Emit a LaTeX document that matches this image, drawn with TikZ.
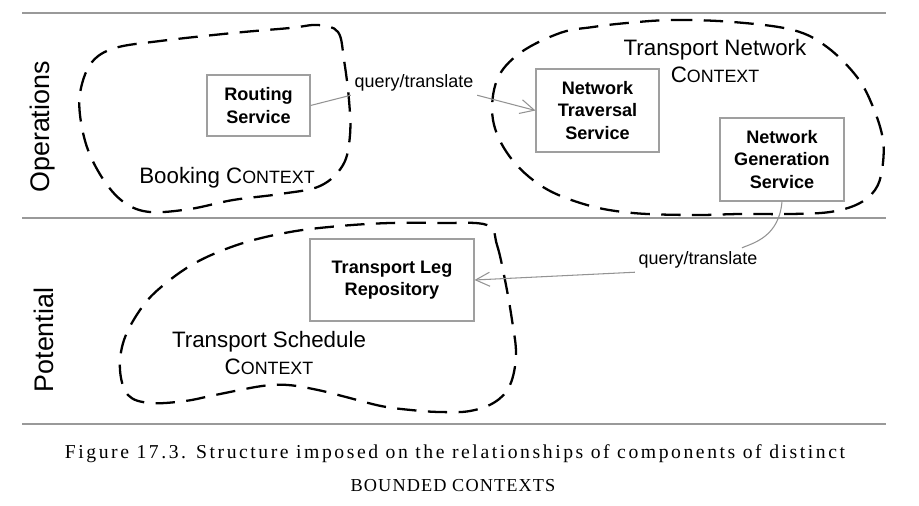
\documentclass[tikz,border=0pt]{standalone}
\usepackage{fontspec}
\setmainfont{Liberation Serif}
\setsansfont{Liberation Sans}
\usepackage{graphicx}
\usetikzlibrary{shapes,arrows.meta,positioning}
\newcommand{\ctxsc}{C\scalebox{0.8}{ONTEXT}}
\tikzstyle{block} = [rectangle, draw=gray!75, line width=0.6pt, align=center, font=\sffamily\bfseries\fontsize{10.3}{12.8}\selectfont]
\tikzstyle{context} = [draw=black, line width=1.3pt, dash pattern=on 11pt off 6.5pt, smooth cycle, tension=0.6]
\tikzstyle{ctxlabel} = [align=center, inner sep=0pt, font=\sffamily\fontsize{12.7}{15.8}\selectfont]
\tikzstyle{layer} = [rotate=90, inner sep=0pt, font=\sffamily\fontsize{15.3}{18}\selectfont]
\tikzstyle{rel} = [inner sep=2pt, font=\sffamily\fontsize{10.2}{12}\selectfont]
\tikzstyle{link} = [draw=gray!85, line width=0.6pt]
\tikzstyle{arrow} = [link, ->, >={Straight Barb[length=8pt,width=8pt]}]
\tikzstyle{divider} = [draw=gray!80, line width=0.8pt]
\tikzstyle{caption} = [inner sep=0pt, font=\fontsize{11.2}{13}\selectfont\addfontfeature{LetterSpace=13}]

\begin{document}
\begin{tikzpicture}[x=0.02cm, y=-0.02cm]
    \useasboundingbox (0,0) rectangle (919,505);

    % Layers
    \draw [divider] (22,13) -- (886,13);
    \draw [divider] (22,218) -- (886,218);
    \draw [divider] (22,424) -- (886,424);
    \node [layer] (ops) at (43,127) {Operations};
    \node [layer] (pot) at (44,340) {Potential};

    % Bounded contexts
    \draw [context] plot coordinates {(318,25) (338,32) (344,60) (349,100) (350,135) (343,165) (320,186) (280,194) (233,200) (190,209) (150,212) (125,203) (105,182) (88,150) (80,115) (81,88) (92,62) (115,48) (160,41) (233,33) (290,28)};
    \draw [context] plot coordinates {(627,23) (673,20) (733,22) (793,30) (827,47) (857,77) (873,107) (883,140) (882,170) (875,190) (858,204) (830,212) (790,214) (740,214) (693,215) (633,213) (587,205) (543,187) (510,157) (493,120) (497,80) (520,53) (560,33) (593,27)};
    \draw [context] plot coordinates {(487,225) (497,245) (505,280) (512,320) (516,355) (510,385) (495,402) (470,411) (440,412) (411,410) (381,406) (346,397) (318,390) (288,385) (262,386) (215,395) (185,401) (150,403) (128,395) (120,370) (124,340) (140,310) (160,288) (195,263) (240,244) (290,232) (340,226) (390,223) (440,223)};

    % Place nodes
    \node [block, minimum width=2.06cm, minimum height=1.22cm] (routing) at (258.5,105.5) {Routing\\Service};
    \node [block, minimum width=2.46cm, minimum height=1.66cm] (traversal) at (597.5,110.5) {Network\\Traversal\\Service};
    \node [block, minimum width=2.48cm, minimum height=1.66cm] (generation) at (782,159.5) {Network\\Generation\\Service};
    \node [block, minimum width=3.28cm, minimum height=1.64cm] (repository) at (392,280) {Transport Leg\\Repository};

    \node [ctxlabel] (booking) at (227,178) {Booking \ctxsc};
    \node [ctxlabel] (network) at (715,61) {Transport Network\\\ctxsc};
    \node [ctxlabel] (schedule) at (269,353) {Transport Schedule\\\ctxsc};

    \node [rel] (query1) at (414,83) {query/translate};
    \node [rel] (query2) at (698,260) {query/translate};

    \draw [link] (routing.east) -- (query1.south west);
    \draw [arrow] (query1.south east) -- (traversal.west);
    \draw [link] (generation.south) .. controls +(-3,35) and +(12,-5) .. ([xshift=0.88cm]query2.north);
    \draw [arrow] (query2.south west) -- (repository.east);

    % Caption
    \node [caption] (fig) at (455,454) {Figure 17.3. Structure imposed on the relationships of components of distinct};
    \node [caption, font=\fontsize{10.4}{12}\selectfont\addfontfeature{LetterSpace=6}] (bc) at (453,486) {BOUNDED CONTEXTS};
\end{tikzpicture}
\end{document}
